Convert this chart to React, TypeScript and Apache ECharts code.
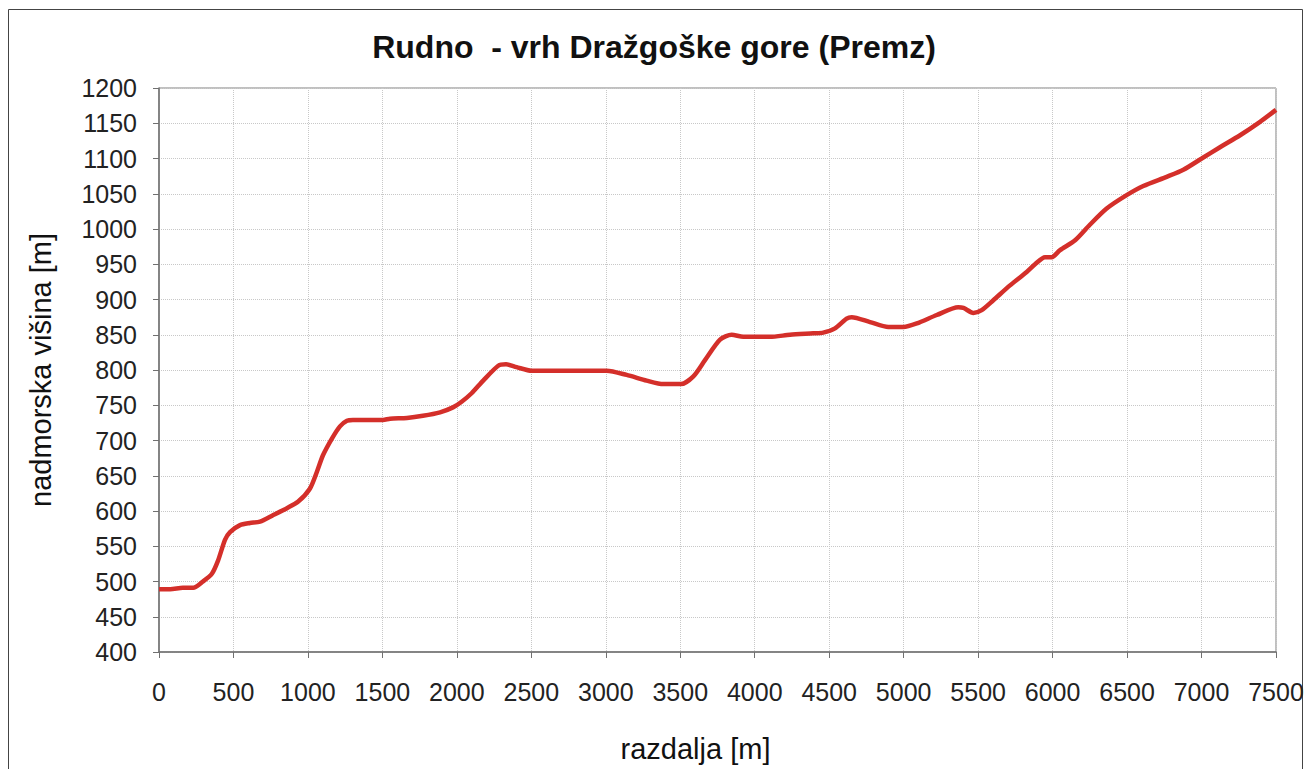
import React, { useEffect, useRef } from "react";
import * as echarts from "echarts";

const distances = [
  0, 75, 160, 230, 295, 355, 397, 443, 477, 544, 611, 678, 765, 859, 933, 1014,
  1061, 1101, 1162, 1215, 1262, 1302, 1504, 1551, 1665, 1772, 1887, 1974, 2032,
  2099, 2177, 2278, 2330, 2401, 2502, 3006, 3140, 3274, 3386, 3505, 3588, 3666,
  3767, 3845, 3923, 4102, 4237, 4393, 4460, 4539, 4617, 4651, 4774, 4897, 4998,
  5088, 5222, 5367, 5401, 5468, 5524, 5602, 5714, 5826, 5882, 5949, 5994, 6050,
  6151, 6250, 6363, 6497, 6609, 6766, 6878, 7001, 7124, 7259, 7393, 7500,
];
const elevations = [
  489, 489, 491, 491, 500, 511, 530, 559, 570, 580, 583, 585, 594, 604, 613, 632,
  656, 679, 703, 720, 728, 729, 729, 731, 732, 735, 740, 747, 755,
  767, 785, 806, 808, 804, 799, 799, 793, 785, 780, 780, 791, 814,
  843, 850, 847, 847, 850, 852, 853, 859, 873, 875, 868, 861, 861,
  866, 878, 889, 888, 881, 885, 899, 920, 939, 950, 960, 960, 970,
  984, 1006, 1029, 1048, 1061, 1074, 1084, 1100, 1116, 1133, 1152, 1169,
];

const titleText = "Rudno  - vrh Dražgoške gore (Premz)";
const xName = "razdalja [m]";
const yName = "nadmorska višina [m]";

export default function App() {
  const ref = useRef<HTMLDivElement>(null);
  useEffect(() => {
    if (!ref.current) return;
    const chart = echarts.init(ref.current, undefined, { renderer: "svg" });
    const font = "Liberation Sans, Arial, sans-serif";
    chart.setOption({
      animation: false,
      backgroundColor: "#ffffff",
      textStyle: { fontFamily: font },
      title: {
        text: titleText,
        left: "center",
        top: 26,
        textStyle: { fontFamily: font, fontSize: 32, fontWeight: "bold", color: "#111" },
      },
      graphic: [
        {
          type: "rect",
          shape: { x: 8.5, y: 9.5, width: 1294, height: 780 },
          style: { fill: "none", stroke: "#444", lineWidth: 1 },
          silent: true,
        },
      ],
      grid: {
        left: 159,
        top: 88,
        right: 32,
        bottom: 117,
        show: true,
        borderColor: "#808080",
        borderWidth: 1,
        backgroundColor: "transparent",
      },
      xAxis: {
        type: "value",
        min: 0,
        max: 7500,
        interval: 500,
        name: xName,
        nameLocation: "middle",
        nameGap: 82,
        nameTextStyle: { fontFamily: font, fontSize: 29, color: "#111", padding: [0, 44, 0, 0] },
        axisLine: { show: true, onZero: false, lineStyle: { color: "#707070", width: 1.5 } },
        axisTick: { show: true, length: 6, lineStyle: { color: "#707070" } },
        axisLabel: {
          fontFamily: font,
          fontSize: 25,
          color: "#222",
          margin: 27,
          formatter: (v: number) => String(v),
        },
        splitLine: { show: true, lineStyle: { color: "#c8c8c8", type: "dotted", width: 1 } },
      },
      yAxis: {
        type: "value",
        min: 400,
        max: 1200,
        interval: 50,
        name: yName,
        nameLocation: "middle",
        nameGap: 104,
        nameTextStyle: { fontFamily: font, fontSize: 29, color: "#111" },
        axisLine: { show: true, lineStyle: { color: "#707070", width: 1.5 } },
        axisTick: { show: true, length: 6, lineStyle: { color: "#707070" } },
        axisLabel: {
          fontFamily: font,
          fontSize: 25,
          color: "#222",
          margin: 22,
          formatter: (v: number) => String(v),
        },
        splitLine: { show: true, lineStyle: { color: "#c8c8c8", type: "dotted", width: 1 } },
      },
      series: [
        {
          type: "line",
          data: distances.map((d, i) => [d, elevations[i]]),
          showSymbol: false,
          smooth: 0.25,
          lineStyle: { color: "#d42f2a", width: 4.5 },
          itemStyle: { color: "#d42f2a" },
        },
      ],
    });
    return () => chart.dispose();
  }, []);
  return (
    <div
      ref={ref}
      style={{ position: "fixed", left: 0, top: 0, width: 1308, height: 769 }}
    />
  );
}
